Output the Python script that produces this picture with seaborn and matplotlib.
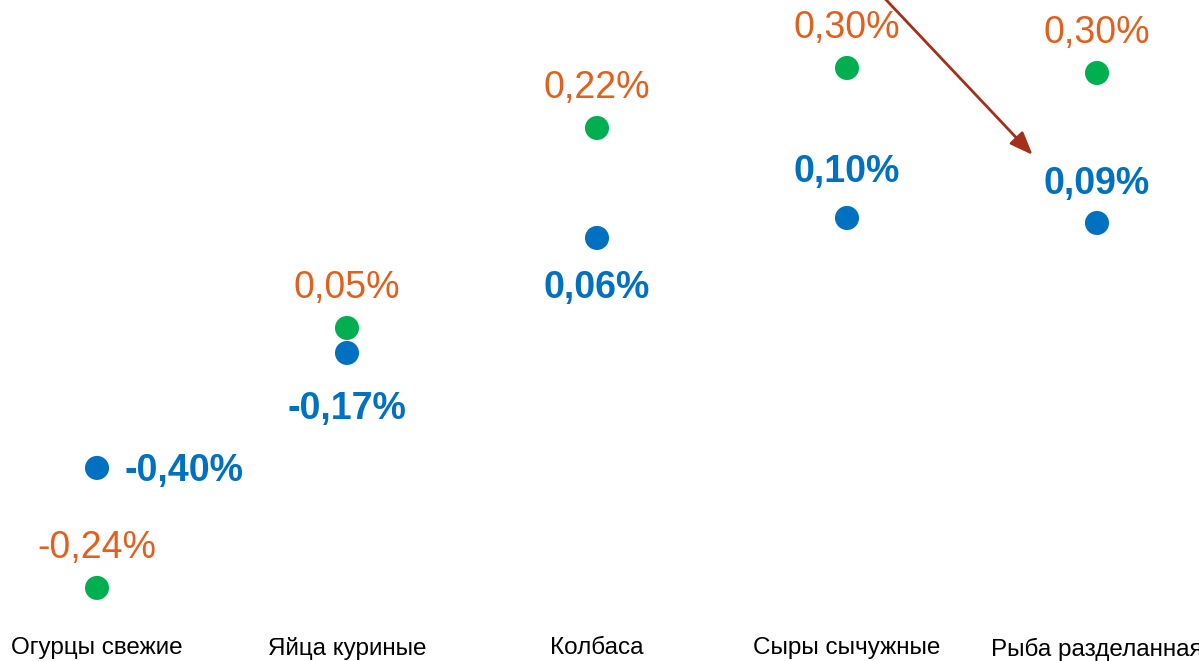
import pandas as pd
import seaborn as sns
import matplotlib.pyplot as plt

# данные
categories = ["Огурцы свежие", "Яйца куриные", "Колбаса", "Сыры сычужные", "Рыба разделанная"]
blue_vals = [-0.40, -0.17, 0.06, 0.10, 0.09]
blue_labels = ["-0,40%", "-0,17%", "0,06%", "0,10%", "0,09%"]
green_vals = [-0.64, -0.12, 0.28, 0.40, 0.39]
green_labels = ["-0,24%", "0,05%", "0,22%", "0,30%", "0,30%"]

BLUE = "#0070C0"
GREEN = "#00B050"
ORANGE = "#E0601E"
ARROW = "#A2301A"

sns.set_style("white")
plt.rcParams['font.family'] = ['Liberation Sans', 'DejaVu Sans']

df = pd.DataFrame({"cat": categories * 2,
                   "val": blue_vals + green_vals,
                   "ser": ["blue"] * 5 + ["green"] * 5})

fig = plt.figure(figsize=(11.99, 6.61), dpi=100)
ax = fig.add_axes([0, 0.044, 1, 0.956])
sns.scatterplot(data=df, x="cat", y="val", hue="ser", palette={"blue": BLUE, "green": GREEN},
                s=300, linewidth=0, legend=False, ax=ax)

ax.set_xlim(-0.388, 4.408)
ax.set_ylim(-0.728, 0.536)

# подписи зелёных точек (сверху)
for i, lab in enumerate(green_labels):
    ax.annotate(lab, (i, green_vals[i]), xytext=(0, 29), textcoords="offset points",
                ha="center", va="center", color=ORANGE, fontsize=27)

# подписи синих точек
offsets = [(20, -2, "left"), (0, -40, "center"), (0, -36, "center"), (0, 33, "center"), (0, 28, "center")]
for i, lab in enumerate(blue_labels):
    dx, dy, ha = offsets[i]
    ax.annotate(lab, (i, blue_vals[i]), xytext=(dx, dy), textcoords="offset points",
                ha=ha, va="center", color=BLUE, fontsize=27, fontweight="bold")

# стрелка
ax.annotate("", xy=(3.75, 0.222), xytext=(3.14, 0.545), annotation_clip=False,
            arrowprops=dict(arrowstyle="-|>,head_length=1.4,head_width=0.55", color=ARROW, lw=2))

ax.set_xlabel("")
ax.set_ylabel("")
ax.set_yticks([])
ax.tick_params(axis="x", length=0, pad=4, labelsize=17.5, labelcolor="black")
sns.despine(left=True, bottom=True)

fig.savefig("out.png", dpi=100)
